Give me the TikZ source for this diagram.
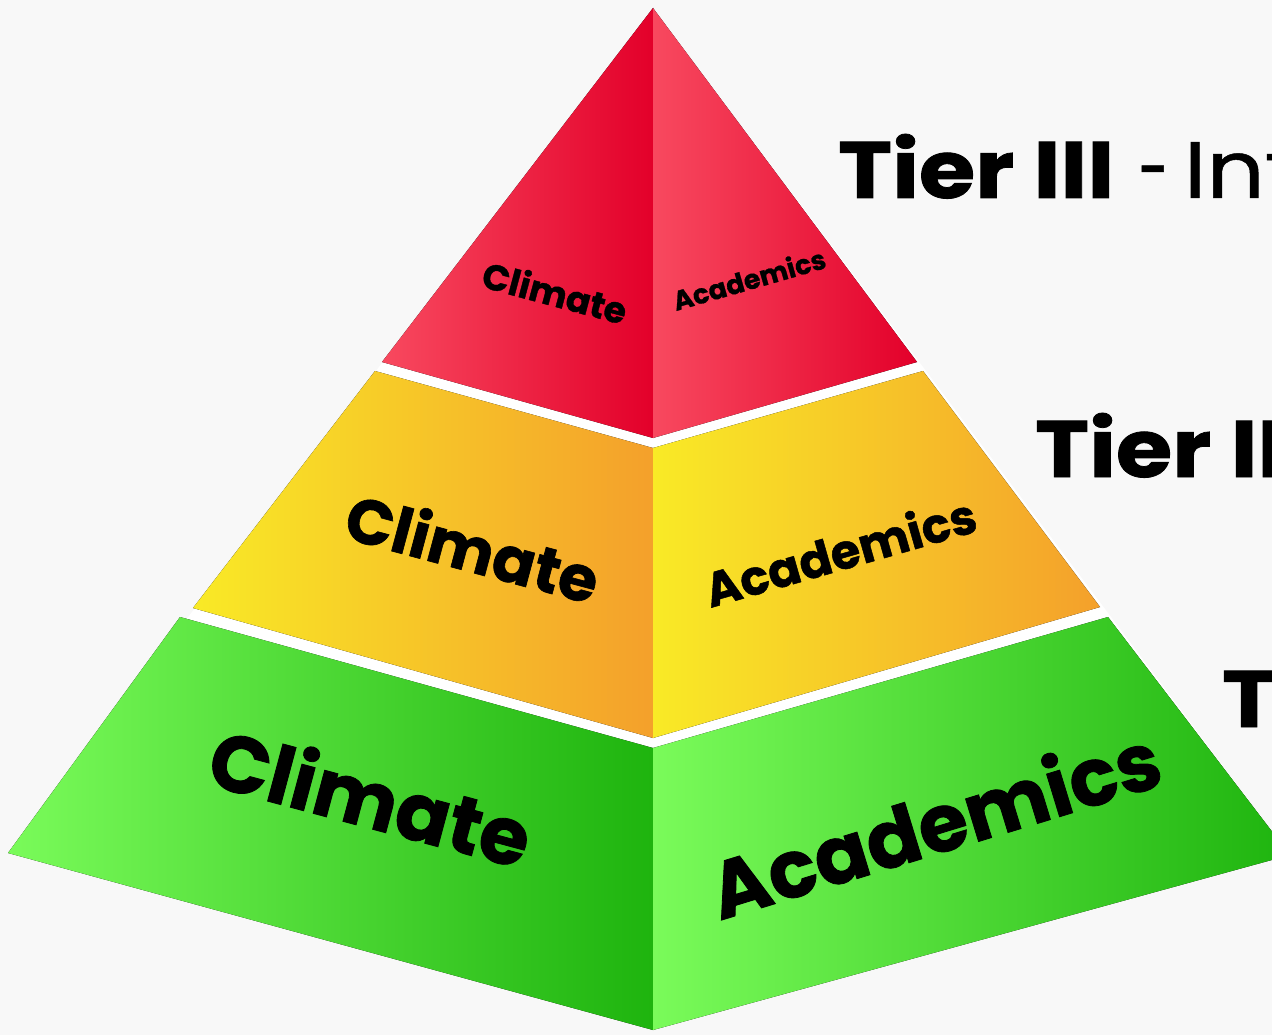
\documentclass[tikz,border=0pt]{standalone}
\usepackage{fontspec}
\usepackage{graphicx}
\setmainfont{Poppins}[BoldFeatures={FakeBold=1}]
\definecolor{backgr}{HTML}{F8F8F8}
\definecolor{redlight}{HTML}{F8495F}
\definecolor{reddark}{HTML}{E3002A}
\definecolor{yellowlight}{HTML}{F9EA26}
\definecolor{yellowdark}{HTML}{F4A02B}
\definecolor{greenlight}{HTML}{7AFB5A}
\definecolor{greendark}{HTML}{1EB40E}
\tikzset{redface/.style = {left color=redlight, right color=reddark}}
\tikzset{yellowface/.style = {left color=yellowlight, right color=yellowdark}}
\tikzset{greenface/.style = {left color=greenlight, right color=greendark}}
\tikzset{facetext/.style = {inner sep=0pt, text=black, font=\bfseries}}
\tikzset{tierlabel/.style = {inner sep=0pt, anchor=base west, font=\fontsize{80}{90}\selectfont}}
\newcommand{\widelabel}[1]{\scalebox{1.14}[1]{#1}}

\begin{document}
\begin{tikzpicture}[x=1pt, y=-1pt]
  \fill[backgr] (0,0) rectangle (1272,1035);
  \useasboundingbox (0,0) rectangle (1272,1035);
  \clip (0,0) rectangle (1272,1035);

  % corners of the pyramid, image coordinates
  \coordinate (apex) at (653,8);
  \coordinate (redL) at (382,362);
  \coordinate (redM) at (653,438);
  \coordinate (redR) at (917,362);
  \coordinate (yelTL) at (375,371);
  \coordinate (yelTM) at (653,448);
  \coordinate (yelTR) at (923,371);
  \coordinate (yelBL) at (193,608);
  \coordinate (yelBM) at (653,738);
  \coordinate (yelBR) at (1100,607);
  \coordinate (grnTL) at (180,617);
  \coordinate (grnTM) at (653,748);
  \coordinate (grnTR) at (1108,617);
  \coordinate (grnBL) at (8,853);
  \coordinate (grnBM) at (653,1030);
  \coordinate (grnBR) at (1290,855);

  \fill[white] (apex) -- (grnBL) -- (grnBM) -- (grnBR) -- cycle;

  % faces
  \fill[redface] (apex) -- (redL) -- (redM) -- cycle;
  \fill[redface] (apex) -- (redM) -- (redR) -- cycle;
  \fill[yellowface] (yelTL) -- (yelBL) -- (yelBM) -- (yelTM) -- cycle;
  \fill[yellowface] (yelTM) -- (yelBM) -- (yelBR) -- (yelTR) -- cycle;
  \fill[greenface] (grnTL) -- (grnBL) -- (grnBM) -- (grnTM) -- cycle;
  \fill[greenface] (grnTM) -- (grnBM) -- (grnBR) -- (grnTR) -- cycle;

  % texts on the faces
  \node[facetext, rotate=-15, font=\bfseries\fontsize{36}{40}\selectfont] (climate3) at (555,292) {Climate};
  \node[facetext, rotate=16, font=\bfseries\fontsize{27}{30}\selectfont] (academics3) at (749,279) {Academics};
  \node[facetext, rotate=-15, font=\bfseries\fontsize{63}{70}\selectfont] (climate2) at (473,547) {Climate};
  \node[facetext, rotate=16, font=\bfseries\fontsize{48}{54}\selectfont] (academics2) at (840,551) {Academics};
  \node[facetext, rotate=-15, font=\bfseries\fontsize{80}{90}\selectfont] (climate1) at (371,796) {Climate};
  \node[facetext, rotate=17, font=\bfseries\fontsize{80}{90}\selectfont] (academics1) at (934,822) {Academics};

  % tier labels
  \node[tierlabel] (tier3) at (838,198) {\widelabel{\textbf{Tier III} \addfontfeature{FakeBold=0.6}\scalebox{0.6}[1]{-}\hspace{-8pt} Int}};
  \node[tierlabel] (tier2) at (1035,477) {\widelabel{\textbf{Tier II}}};
  \node[tierlabel] (tier1) at (1222,727) {\widelabel{\textbf{T}}};
\end{tikzpicture}
\end{document}
